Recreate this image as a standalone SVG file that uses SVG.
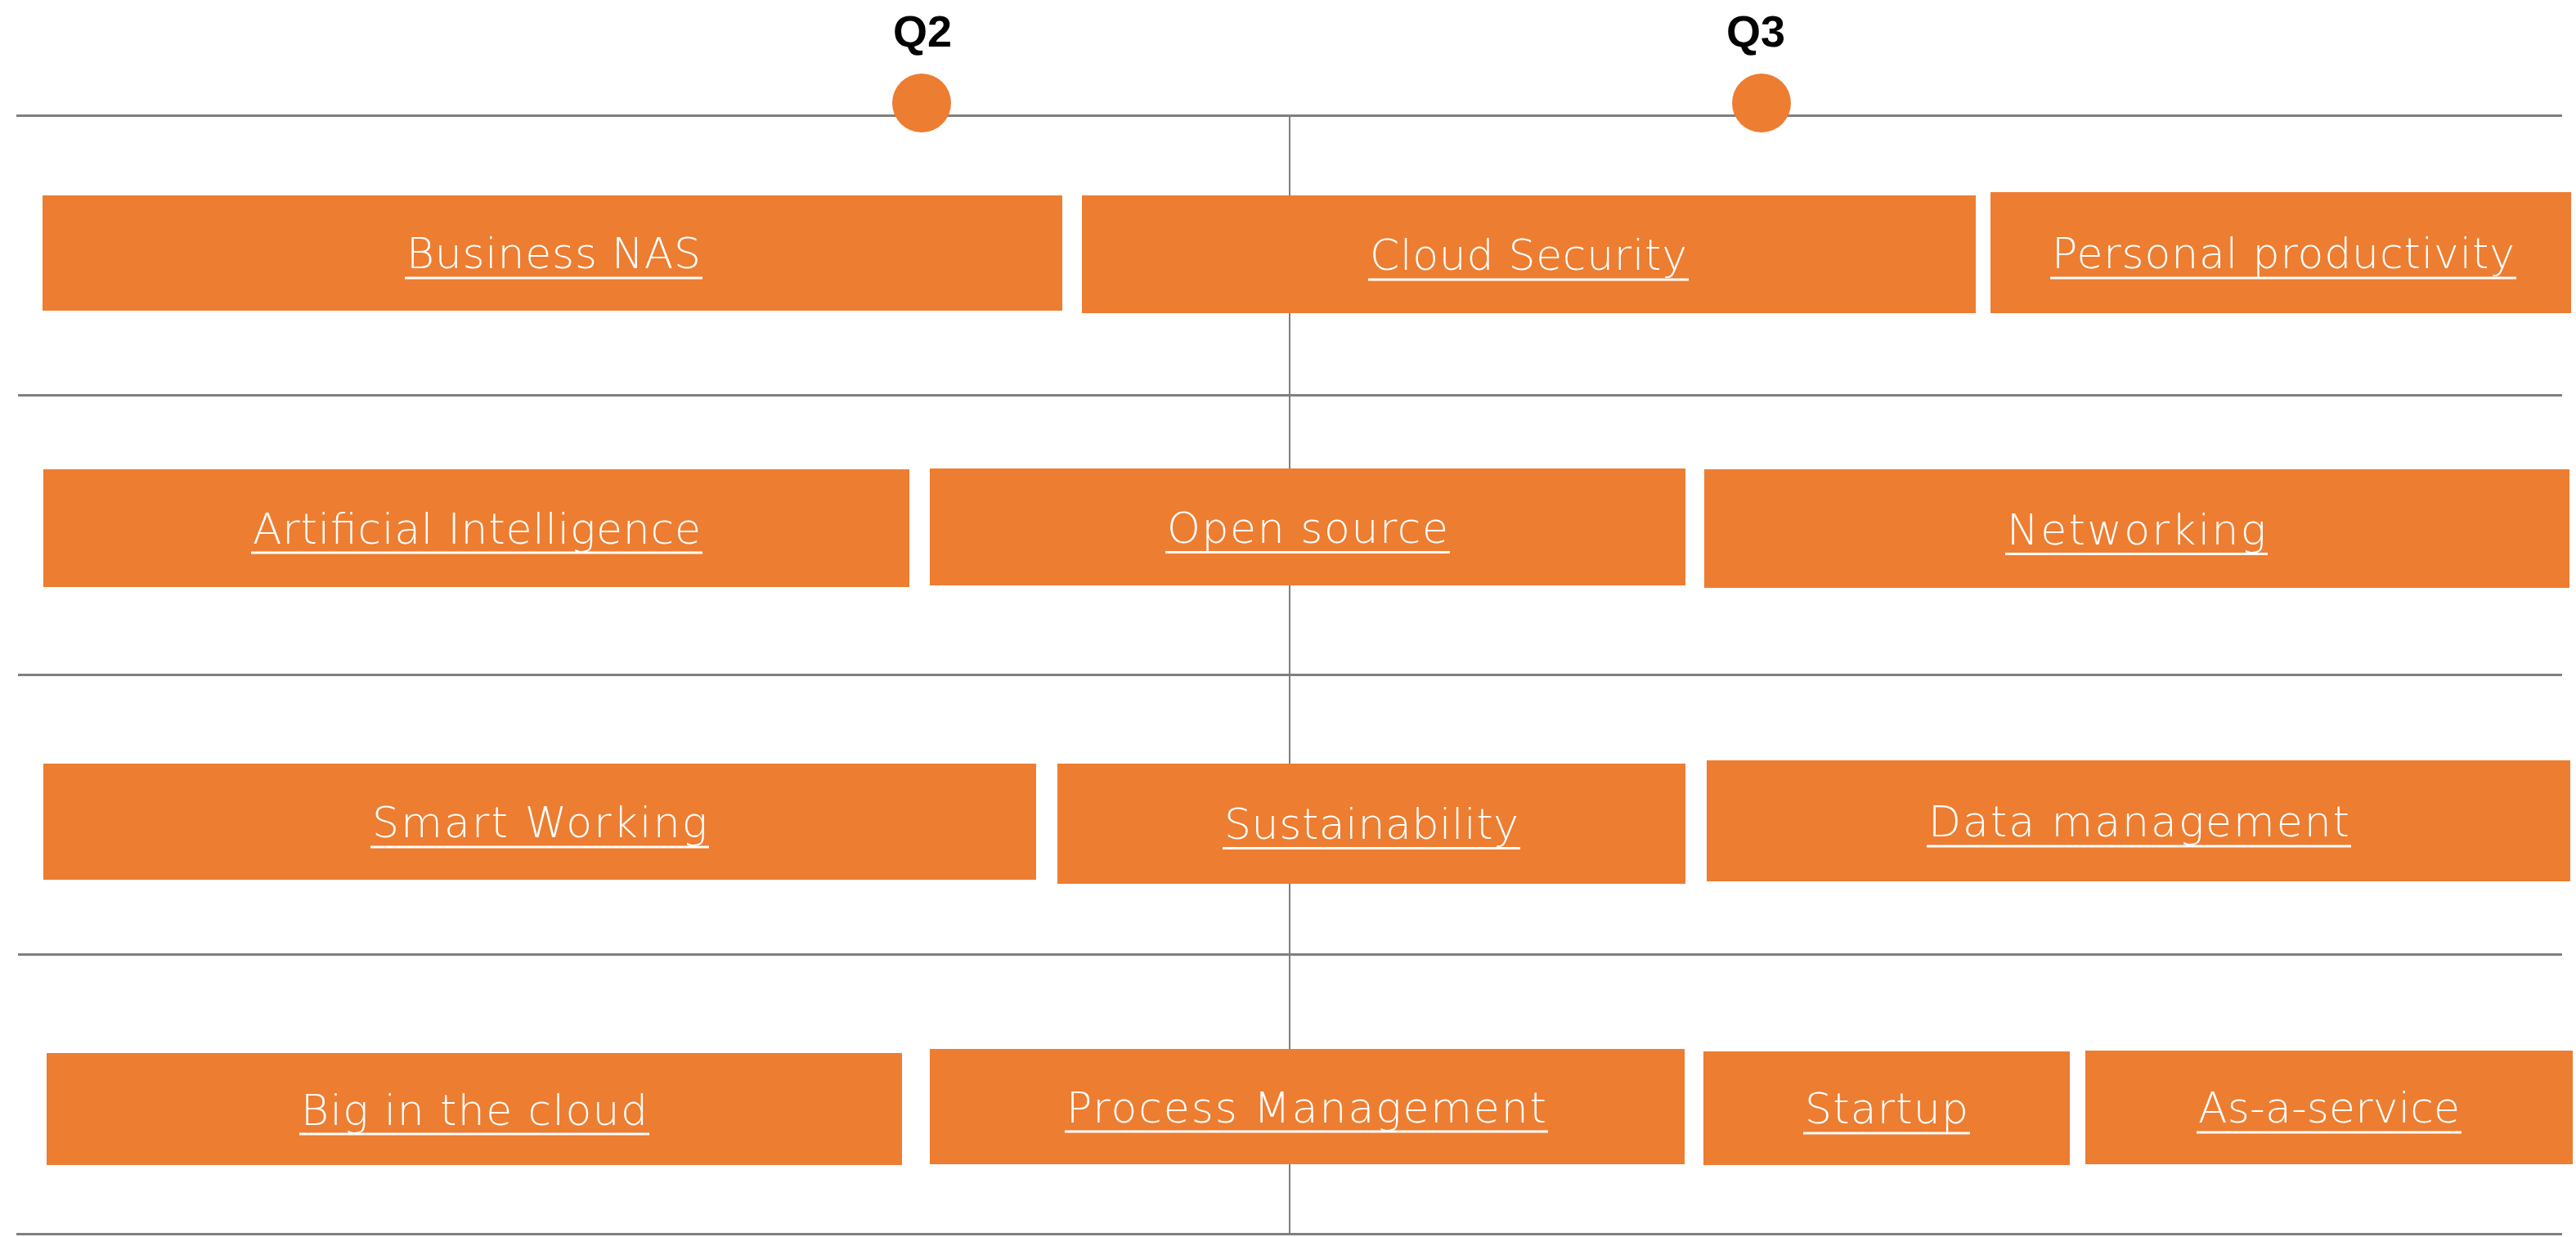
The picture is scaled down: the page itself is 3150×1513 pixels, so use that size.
<svg xmlns="http://www.w3.org/2000/svg" width="3150" height="1513" viewBox="0 0 3150 1513">
<style>
.box{fill:#ED7D31}
.lbl{font-family:"DejaVu Sans","Liberation Sans",sans-serif;font-size:52px;font-weight:300;fill:#ffffff}
.ul{fill:#ffffff}
.hl{stroke:#7f7f7f;stroke-width:3;fill:none}
.vl{stroke:#7f7f7f;stroke-width:2;fill:none}
.q{font-family:"Liberation Sans",Arial,sans-serif;font-weight:700;font-size:54px;fill:#000000;text-anchor:middle}
.dot{fill:#ED7D31}
</style>
<rect width="3150" height="1513" fill="#ffffff"/>
<g id="connectors">
  <line class="vl" x1="1577" y1="140" x2="1577" y2="1511"/>
  <line class="hl" x1="20" y1="141.5" x2="3133" y2="141.5"/>
  <line class="hl" x1="22" y1="483.5" x2="3133" y2="483.5"/>
  <line class="hl" x1="22" y1="825.5" x2="3133" y2="825.5"/>
  <line class="hl" x1="22" y1="1167.5" x2="3133" y2="1167.5"/>
  <line class="hl" x1="20" y1="1509.5" x2="3133" y2="1509.5"/>
</g>
<g id="q2">
  <text class="q" x="1128" y="57">Q2</text>
  <circle class="dot" cx="1127" cy="126" r="36"/>
</g>
<g id="q3">
  <text class="q" x="2147" y="57">Q3</text>
  <circle class="dot" cx="2154" cy="126" r="36"/>
</g>
<g id="business-nas">
  <rect class="box" x="52" y="239" width="1247" height="141"/>
  <text class="lbl" x="497" y="328" textLength="360" lengthAdjust="spacing">Business NAS</text>
  <rect class="ul" x="495" y="338.5" width="364" height="3"/>
</g>
<g id="cloud-security">
  <rect class="box" x="1323" y="239" width="1093" height="144"/>
  <text class="lbl" x="1675" y="330" textLength="388" lengthAdjust="spacing">Cloud Security</text>
  <rect class="ul" x="1673" y="340.5" width="392" height="3"/>
</g>
<g id="personal-productivity">
  <rect class="box" x="2434" y="235" width="710" height="148"/>
  <text class="lbl" x="2509" y="328" textLength="566" lengthAdjust="spacing">Personal productivity</text>
  <rect class="ul" x="2507" y="338.5" width="570" height="3"/>
</g>
<g id="artificial-intelligence">
  <rect class="box" x="53" y="574" width="1059" height="144"/>
  <text class="lbl" x="309" y="665" textLength="548" lengthAdjust="spacing">Artificial Intelligence</text>
  <rect class="ul" x="307" y="674.5" width="552" height="3"/>
</g>
<g id="open-source">
  <rect class="box" x="1137" y="573" width="924" height="143"/>
  <text class="lbl" x="1427" y="664" textLength="344" lengthAdjust="spacing">Open source</text>
  <rect class="ul" x="1425" y="674" width="348" height="3"/>
</g>
<g id="networking">
  <rect class="box" x="2084" y="574" width="1058" height="145"/>
  <text class="lbl" x="2454" y="666" textLength="317" lengthAdjust="spacing">Networking</text>
  <rect class="ul" x="2452" y="676" width="321" height="3"/>
</g>
<g id="smart-working">
  <rect class="box" x="53" y="934" width="1214" height="142"/>
  <text class="lbl" x="455" y="1024" textLength="410" lengthAdjust="spacing">Smart Working</text>
  <rect class="ul" x="453" y="1034.5" width="414" height="3"/>
</g>
<g id="sustainability">
  <rect class="box" x="1293" y="934" width="768" height="147"/>
  <text class="lbl" x="1497" y="1026" textLength="360" lengthAdjust="spacing">Sustainability</text>
  <rect class="ul" x="1495" y="1036" width="364" height="3"/>
</g>
<g id="data-management">
  <rect class="box" x="2087" y="930" width="1056" height="148"/>
  <text class="lbl" x="2358" y="1023" textLength="515" lengthAdjust="spacing">Data management</text>
  <rect class="ul" x="2356" y="1033.5" width="519" height="3"/>
</g>
<g id="big-in-the-cloud">
  <rect class="box" x="57" y="1288" width="1046" height="137"/>
  <text class="lbl" x="368" y="1376" textLength="424" lengthAdjust="spacing">Big in the cloud</text>
  <rect class="ul" x="366" y="1385.5" width="428" height="3"/>
</g>
<g id="process-management">
  <rect class="box" x="1137" y="1283" width="923" height="141"/>
  <text class="lbl" x="1304" y="1373" textLength="587" lengthAdjust="spacing">Process Management</text>
  <rect class="ul" x="1302" y="1382.5" width="591" height="3"/>
</g>
<g id="startup">
  <rect class="box" x="2083" y="1286" width="448" height="139"/>
  <text class="lbl" x="2207" y="1374" textLength="200" lengthAdjust="spacing">Startup</text>
  <rect class="ul" x="2205" y="1384.5" width="204" height="3"/>
</g>
<g id="as-a-service">
  <rect class="box" x="2550" y="1285" width="596" height="139"/>
  <text class="lbl" x="2688" y="1373" textLength="320" lengthAdjust="spacing">As-a-service</text>
  <rect class="ul" x="2686" y="1383.5" width="324" height="3"/>
</g>
</svg>
